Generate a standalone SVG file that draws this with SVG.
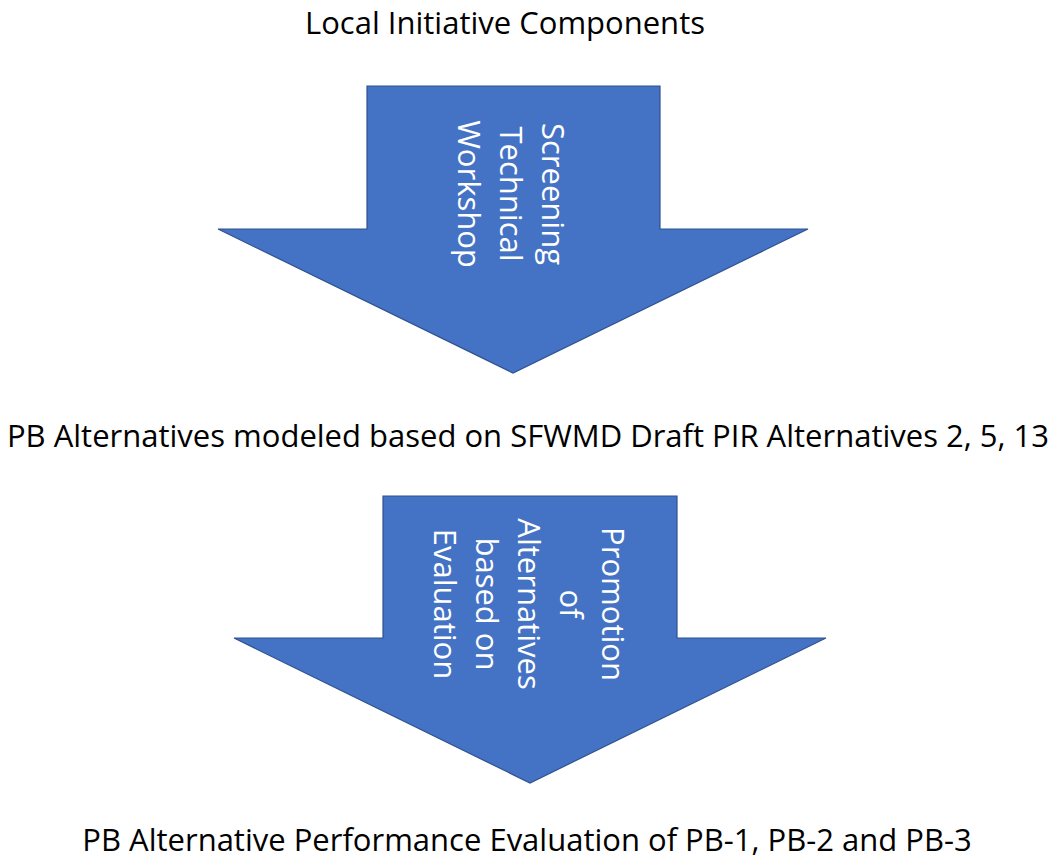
<svg xmlns="http://www.w3.org/2000/svg" width="1056" height="861" viewBox="0 0 1056 861">
<style>
.lbl{font-family:"Open Sans","Liberation Sans",sans-serif;font-size:31px;fill:#000;text-anchor:middle}
.in{font-family:"Open Sans","Liberation Sans",sans-serif;font-size:31px;fill:#fff;text-anchor:middle}
.arrow{fill:#4472C4;stroke:#2F528F;stroke-width:1.2}
</style>
<rect width="1056" height="861" fill="#fff"/>
<g id="title"><text class="lbl" x="505" y="34">Local Initiative Components</text></g>
<g id="stage2"><text class="lbl" x="528" y="447">PB Alternatives modeled based on SFWMD Draft PIR Alternatives 2, 5, 13</text></g>
<g id="stage3"><text class="lbl" x="527" y="851">PB Alternative Performance Evaluation of PB-1, PB-2 and PB-3</text></g>
<g id="connectors">
<g id="arrow1">
<polygon class="arrow" points="367,86 660,86 660,229 808,229 513,373 218,229 367,229"/>
<g transform="translate(542,194) rotate(90)">
<text class="in" x="0" y="0">Screening</text>
<text class="in" x="0" y="42">Technical</text>
<text class="in" x="0" y="84">Workshop</text>
</g>
</g>
<g id="arrow2">
<polygon class="arrow" points="383,496 677,496 677,638 826,638 530,783 234,638 383,638"/>
<g transform="translate(602,604) rotate(90)">
<text class="in" x="0" y="0">Promotion</text>
<text class="in" x="0" y="42">of</text>
<text class="in" x="0" y="84">Alternatives</text>
<text class="in" x="0" y="126">based on</text>
<text class="in" x="0" y="168">Evaluation</text>
</g>
</g>
</g>
</svg>
